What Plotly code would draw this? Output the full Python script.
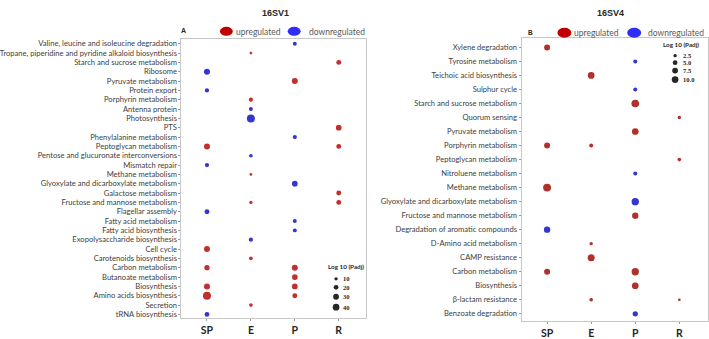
import plotly.graph_objects as go

W, H = 709, 339

groups = ["SP", "E", "P", "R"]

# ---------------- 16SV1 (panel A) ----------------
v1_pathways = [
    "Valine, leucine and isoleucine degradation",
    "Tropane, piperidine and pyridine alkaloid biosynthesis",
    "Starch and sucrose metabolism",
    "Ribosome",
    "Pyruvate metabolism",
    "Protein export",
    "Porphyrin metabolism",
    "Antenna protein",
    "Photosynthesis",
    "PTS",
    "Phenylalanine metabolism",
    "Peptoglycan metabolism",
    "Pentose and glucuronate interconversions",
    "Mismatch repair",
    "Methane metabolism",
    "Glyoxylate and dicarboxylate metabolism",
    "Galactose metabolism",
    "Fructose and mannose metabolism",
    "Flagellar assembly",
    "Fatty acid metabolism",
    "Fatty acid biosynthesis",
    "Exopolysaccharide biosynthesis",
    "Cell cycle",
    "Carotenoids biosynthesis",
    "Carbon metabolism",
    "Butanoate metabolism",
    "Biosynthesis",
    "Amino acids biosynthesis",
    "Secretion",
    "tRNA biosynthesis",
]

v1_pt_pathway = [
    "Valine, leucine and isoleucine degradation",
    "Tropane, piperidine and pyridine alkaloid biosynthesis",
    "Starch and sucrose metabolism",
    "Ribosome",
    "Pyruvate metabolism",
    "Protein export",
    "Porphyrin metabolism",
    "Antenna protein",
    "Photosynthesis",
    "PTS",
    "Phenylalanine metabolism",
    "Peptoglycan metabolism",
    "Peptoglycan metabolism",
    "Pentose and glucuronate interconversions",
    "Mismatch repair",
    "Methane metabolism",
    "Glyoxylate and dicarboxylate metabolism",
    "Galactose metabolism",
    "Fructose and mannose metabolism",
    "Fructose and mannose metabolism",
    "Flagellar assembly",
    "Fatty acid metabolism",
    "Fatty acid biosynthesis",
    "Exopolysaccharide biosynthesis",
    "Cell cycle",
    "Carotenoids biosynthesis",
    "Carbon metabolism",
    "Carbon metabolism",
    "Butanoate metabolism",
    "Biosynthesis",
    "Biosynthesis",
    "Amino acids biosynthesis",
    "Amino acids biosynthesis",
    "Secretion",
    "tRNA biosynthesis",
]
v1_pt_group = [
    "P", "E", "R", "SP", "P", "SP", "E", "E", "E", "R", "P", "SP", "R", "E", "SP",
    "E", "P", "R", "E", "R", "SP", "P", "P", "E", "SP", "E", "SP", "P", "P", "SP",
    "P", "SP", "P", "E", "SP",
]
v1_pt_reg = [
    "down", "up", "up", "down", "up", "down", "up", "down", "down", "up", "down", "up", "up", "down", "down",
    "up", "down", "up", "up", "up", "down", "down", "down", "down", "up", "up", "up", "up", "up", "up",
    "up", "up", "up", "up", "down",
]
v1_pt_log10padj = [
    14, 6.5, 22, 32, 32, 16, 16, 14, 57, 29, 16, 32, 22, 12, 16,
    6.5, 29, 22, 10, 22, 22, 14, 14, 16, 32, 12, 25, 32, 29, 32,
    29, 57, 22, 12, 20,
]
v1_legend_values = [10, 20, 30, 40]

# ---------------- 16SV4 (panel B) ----------------
v4_pathways = [
    "Xylene degradation",
    "Tyrosine metabolism",
    "Teichoic acid biosynthesis",
    "Sulphur cycle",
    "Starch and sucrose metabolism",
    "Quorum sensing",
    "Pyruvate metabolism",
    "Porphyrin metabolism",
    "Peptoglycan metabolism",
    "Nitroluene metabolism",
    "Methane metabolism",
    "Glyoxylate and dicarboxylate metabolism",
    "Fructose and mannose metabolism",
    "Degradation of aromatic compounds",
    "D-Amino acid metabolism",
    "CAMP resistance",
    "Carbon metabolism",
    "Biosynthesis",
    "β-lactam resistance",
    "Benzoate degradation",
]
v4_pt_pathway = [
    "Xylene degradation",
    "Tyrosine metabolism",
    "Teichoic acid biosynthesis",
    "Sulphur cycle",
    "Starch and sucrose metabolism",
    "Quorum sensing",
    "Pyruvate metabolism",
    "Porphyrin metabolism",
    "Porphyrin metabolism",
    "Peptoglycan metabolism",
    "Nitroluene metabolism",
    "Methane metabolism",
    "Glyoxylate and dicarboxylate metabolism",
    "Fructose and mannose metabolism",
    "Degradation of aromatic compounds",
    "D-Amino acid metabolism",
    "CAMP resistance",
    "Carbon metabolism",
    "Carbon metabolism",
    "Biosynthesis",
    "β-lactam resistance",
    "β-lactam resistance",
    "Benzoate degradation",
]
v4_pt_group = [
    "SP", "P", "E", "P", "P", "R", "P", "SP", "E", "R", "P", "SP",
    "P", "P", "SP", "E", "E", "SP", "P", "P", "E", "R", "P",
]
v4_pt_reg = [
    "up", "down", "up", "down", "up", "up", "up", "up", "up", "up", "down", "up",
    "down", "up", "down", "up", "up", "up", "up", "up", "up", "up", "down",
]
v4_pt_log10padj = [
    8.0, 3.6, 10.0, 3.6, 13.0, 2.5, 10.0, 8.0, 3.6, 3.0, 3.6, 14.0,
    12.0, 9.0, 9.0, 2.5, 11.0, 8.0, 12.0, 10.0, 3.0, 1.6, 6.3,
]
v4_legend_values = [2.5, 5.0, 7.5, 10.0]

RED = "#C0302E"
RED2 = "#B0302C"
BLUE = "#3535D0"
LEG_RED = "#C00000"
LEG_BLUE = "#2E2EF5"
GRAY_TXT = "#595959"
LINE = "#C8C8C8"

def px(x):
    return x / W

def py(y):
    return 1 - y / H

SREF1 = 2 * 40 / (6.7 ** 2)
SREF4 = 2 * 10 / (6.7 ** 2)

fig = go.Figure()

def add_points(paths, grps, regs, vals, reg, color, sref, xa, ya):
    idx = [i for i, r in enumerate(regs) if r == reg]
    fig.add_trace(go.Scatter(
        x=[grps[i] for i in idx], y=[paths[i] for i in idx],
        mode="markers", xaxis=xa, yaxis=ya, showlegend=False, hoverinfo="skip",
        marker=dict(size=[vals[i] for i in idx], sizemode="area", sizeref=sref,
                    color=color, opacity=1, line=dict(width=0)),
    ))

add_points(v1_pt_pathway, v1_pt_group, v1_pt_reg, v1_pt_log10padj, "up", RED, SREF1, "x", "y")
add_points(v1_pt_pathway, v1_pt_group, v1_pt_reg, v1_pt_log10padj, "down", BLUE, SREF1, "x", "y")
add_points(v4_pt_pathway, v4_pt_group, v4_pt_reg, v4_pt_log10padj, "up", RED2, SREF4, "x2", "y2")
add_points(v4_pt_pathway, v4_pt_group, v4_pt_reg, v4_pt_log10padj, "down", BLUE, SREF4, "x2", "y2")

# size legends on a pixel overlay axis
leg1_y = [280.5, 289, 298.5, 309]
leg4_y = [56, 63, 71, 80]
fig.add_trace(go.Scatter(
    x=[335] * 4, y=leg1_y, mode="markers", xaxis="x3", yaxis="y3", showlegend=False,
    hoverinfo="skip",
    marker=dict(size=v1_legend_values, sizemode="area", sizeref=SREF1, color="#262626",
                opacity=1, line=dict(width=0)),
))
fig.add_trace(go.Scatter(
    x=[675] * 4, y=leg4_y, mode="markers", xaxis="x3", yaxis="y3", showlegend=False,
    hoverinfo="skip",
    marker=dict(size=v4_legend_values, sizemode="area", sizeref=SREF4, color="#262626",
                opacity=1, line=dict(width=0)),
))

ytick_font = dict(family="Lato", size=7.6, color="#404040")
xtick_font = dict(family="Lato", size=10.5, color="#262626", weight="bold")

axis_common = dict(showgrid=False, zeroline=False, showline=True, mirror=True,
                   linecolor=LINE, linewidth=1, ticks="outside", ticklen=2,
                   tickcolor="#999999", tickwidth=1)

n1 = len(v1_pathways)
n4 = len(v4_pathways)

fig.update_layout(
    width=W, height=H, margin=dict(l=0, r=0, t=0, b=0),
    paper_bgcolor="white", plot_bgcolor="rgba(0,0,0,0)",
    xaxis=dict(domain=[px(180), px(365)], anchor="y", type="category",
               categoryorder="array", categoryarray=groups,
               range=[-0.58, 3.62], tickfont=xtick_font, **axis_common),
    yaxis=dict(domain=[py(320), py(39)], anchor="x", type="category",
               categoryorder="array", categoryarray=v1_pathways,
               range=[n1 - 1 + 0.4, -0.53], tickfont=ytick_font, **axis_common),
    xaxis2=dict(domain=[px(521), px(708)], anchor="y2", type="category",
                categoryorder="array", categoryarray=groups,
                range=[-0.58, 3.65], tickfont=xtick_font, **axis_common),
    yaxis2=dict(domain=[py(323), py(38.5)], anchor="x2", type="category",
                categoryorder="array", categoryarray=v4_pathways,
                range=[n4 - 1 + 0.52, -0.65], tickfont=ytick_font, **axis_common),
    xaxis3=dict(domain=[0, 1], range=[0, W], visible=False, anchor="y3", fixedrange=True),
    yaxis3=dict(domain=[0, 1], range=[H, 0], visible=False, anchor="x3", fixedrange=True),
)

ann = []
def text(x, y, s, size, color="#262626", bold=False, xanchor="center", family="Liberation Sans"):
    ann.append(dict(x=px(x), y=py(y), xref="paper", yref="paper", text=s, showarrow=False,
                    xanchor=xanchor, yanchor="middle",
                    font=dict(family=family, size=size, color=color, weight="bold" if bold else "normal")))

text(274, 13, "16SV1", 9, bold=True)
text(610, 13, "16SV4", 9, bold=True)
text(182, 31, "A", 7, bold=True)
text(530, 33, "B", 6.5, bold=True)
text(233, 32, "upregulated", 8.5, GRAY_TXT, xanchor="left", family="Lato")
text(306, 32, "downregulated", 8.5, GRAY_TXT, xanchor="left", family="Lato")
text(572, 33, "upregulated", 8.5, GRAY_TXT, xanchor="left", family="Lato")
text(646, 33, "downregulated", 8.5, GRAY_TXT, xanchor="left", family="Lato")
text(345, 268.5, "Log 10 (Padj)", 6.3, bold=True, family="Lato")
text(681, 45, "Log 10 (Padj)", 6.3, bold=True, family="Lato")
for v, yy in zip(v1_legend_values, leg1_y):
    text(340, yy, f"{v}", 6.5, bold=True, xanchor="left", family="Liberation Serif")
for v, yy in zip(v4_legend_values, leg4_y):
    text(681, yy, f"{v:.1f}", 6.5, bold=True, xanchor="left", family="Liberation Serif")

shapes = []
def ellipse(cx, cy, w, h, color):
    shapes.append(dict(type="circle", xref="paper", yref="paper",
                       x0=px(cx - w / 2), x1=px(cx + w / 2), y0=py(cy + h / 2), y1=py(cy - h / 2),
                       fillcolor=color, line=dict(width=0)))

ellipse(225, 31.5, 13, 9, LEG_RED)
ellipse(293, 31.5, 13, 9, LEG_BLUE)
ellipse(564, 33, 14, 10, LEG_RED)
ellipse(634, 33, 14, 10, LEG_BLUE)

fig.update_layout(annotations=ann, shapes=shapes)

fig.write_html("out.html")
